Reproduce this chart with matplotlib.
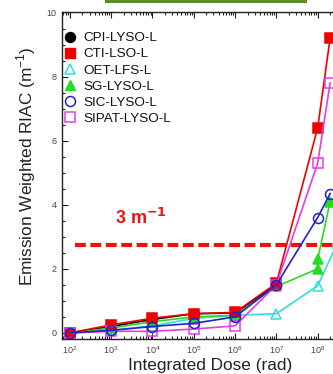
import matplotlib
matplotlib.use("Agg")
import matplotlib.pyplot as plt
from matplotlib.lines import Line2D
from matplotlib.patches import Rectangle
from matplotlib.ticker import AutoMinorLocator, LogLocator, NullFormatter, FixedLocator
import numpy as np

plt.rcParams['font.family'] = ['Liberation Sans', 'DejaVu Sans']
plt.rcParams['mathtext.fontset'] = 'custom'
plt.rcParams['mathtext.rm'] = 'Liberation Sans'

# ---- data ----
labels = ["CPI-LYSO-L", "CTI-LSO-L", "OET-LFS-L", "SG-LYSO-L", "SIC-LYSO-L", "SIPAT-LYSO-L"]

dose_cpi = [1e2, 1e3, 1e4, 1e5, 1e6, 1e7]
riac_cpi = [0.0, 0.2, 0.42, 0.6, 0.62, 1.5]

dose_cti = [1e2, 1e3, 1e4, 1e5, 1e6, 1e7, 1e8, 2e8]
riac_cti = [0.0, 0.25, 0.46, 0.6, 0.64, 1.55, 6.4, 9.2]

dose_oet = [1e2, 1e3, 1e4, 1e5, 1e6, 1e7, 1e8, 3e8]
riac_oet = [0.0, 0.08, 0.22, 0.45, 0.55, 0.6, 1.47, 2.8]

dose_sg = [1e2, 1e3, 1e4, 1e5, 1e6, 1e7, 1e8, 1e8, 2e8]
riac_sg = [0.0, 0.15, 0.35, 0.5, 0.55, 1.45, 2.0, 2.3, 4.1]

dose_sic = [1e2, 1e3, 1e4, 1e5, 1e6, 1e7, 1e8, 2e8]
riac_sic = [0.0, 0.08, 0.2, 0.3, 0.5, 1.5, 3.6, 4.35]

dose_sipat = [1e2, 1e3, 1e4, 1e5, 1e6, 1e7, 1e8, 2e8]
riac_sipat = [0.0, 0.05, 0.05, 0.12, 0.22, 1.5, 5.3, 7.8]

threshold = 2.73
threshold_text = "3 m$^{\\mathbf{-1}}$"

x_ticks = [1e2, 1e3, 1e4, 1e5, 1e6, 1e7, 1e8, 1e9]
y_ticks = [0, 2, 4, 6, 8, 10]

# ---- figure ----
W, H = 333, 374
fig = plt.figure(figsize=(W / 100, H / 100), dpi=100)
ax_left, ax_right = 62, 359
ax_top, ax_bottom = 12.5, 339
ax = fig.add_axes([ax_left / W, 1 - ax_bottom / H, (ax_right - ax_left) / W, (ax_bottom - ax_top) / H])

ms = 7.2
lw = 1.2
c_black = "#000000"
c_red = "#ee0000"
c_cyan = "#33dddd"
c_green = "#22dd22"
c_blue = "#2222cc"
c_mag = "#e23ee2"

series = [
    (dose_cpi, riac_cpi, dict(color=c_black, marker='o', mfc=c_black), 2),
    (dose_oet, riac_oet, dict(color=c_cyan, marker='^', mfc='none'), 3),
    (dose_sg, riac_sg, dict(color=c_green, marker='^', mfc=c_green), 4),
    (dose_cti, riac_cti, dict(color=c_red, marker='s', mfc=c_red), 5),
    (dose_sipat, riac_sipat, dict(color=c_mag, marker='s', mfc='none'), 6),
    (dose_sic, riac_sic, dict(color=c_blue, marker='o', mfc='none'), 7),
]
for x, y, st, z in series:
    ax.plot(x, y, lw=lw, ms=ms, mew=1.1, zorder=z, clip_on=True, **st)

ax.axhline(threshold, xmin=0.045, xmax=1, color="#ee1111", lw=3.0, ls=(0, (2.6, 1.1)), zorder=1)
ax.text(10 ** 3.09, 3.59, threshold_text, color="#ee1111", fontsize=13, fontweight='bold',
        ha='left', va='center')

ax.set_xscale('log')
ax.set_xlim(10 ** 1.81, 10 ** 9.0)
ax.set_ylim(-0.19, 10)
ax.xaxis.set_major_locator(FixedLocator(x_ticks))
ax.set_xticklabels(["$10^{%d}$" % int(np.log10(v)) for v in x_ticks])
ax.xaxis.set_minor_locator(LogLocator(base=10, subs=np.arange(2, 10), numticks=20))
ax.xaxis.set_minor_formatter(NullFormatter())
ax.set_yticks(y_ticks)
ax.yaxis.set_minor_locator(AutoMinorLocator(4))

ax.tick_params(which='both', direction='in', top=True, right=True, colors='#222222',
               labelcolor='#444444', labelsize=6.5, width=0.8)
ax.tick_params(which='major', length=4)
ax.tick_params(which='minor', length=2)
ax.tick_params(axis='x', pad=4)
ax.tick_params(axis='y', pad=4)
for s in ax.spines.values():
    s.set_linewidth(1.0)
    s.set_color('#222222')

ax.set_xlabel("Integrated Dose (rad)", fontsize=12.4, color='#222222', labelpad=1)
ax.set_ylabel("Emission Weighted RIAC (m$^{-1}$)", fontsize=12.4, color='#222222')
ax.yaxis.set_label_coords(-0.08, 0.53)

# legend
handles = [
    Line2D([], [], ls='none', marker='o', color=c_black, mfc=c_black, ms=ms),
    Line2D([], [], ls='none', marker='s', color=c_red, mfc=c_red, ms=ms),
    Line2D([], [], ls='none', marker='^', color=c_cyan, mfc='none', ms=ms, mew=1.1),
    Line2D([], [], ls='none', marker='^', color=c_green, mfc=c_green, ms=ms),
    Line2D([], [], ls='none', marker='o', color=c_blue, mfc='none', ms=ms, mew=1.1),
    Line2D([], [], ls='none', marker='s', color=c_mag, mfc='none', ms=ms, mew=1.1),
]
leg = ax.legend(handles, labels, loc='upper left', bbox_to_anchor=(63.3 / W, 1 - 32 / H),
                bbox_transform=fig.transFigure, frameon=False, fontsize=9.7,
                handlelength=1.0, handletextpad=0.46, labelspacing=0.27,
                borderpad=0, borderaxespad=0)
for t in leg.get_texts():
    t.set_color('#111111')

# green box fragment at top
fig.patches.append(Rectangle((105 / W, 1 - 2.5 / H), (307 - 105) / W, 3 / H,
                             transform=fig.transFigure, facecolor='#5b8c2a',
                             edgecolor='none', figure=fig))

fig.savefig("out.png", dpi=100)
